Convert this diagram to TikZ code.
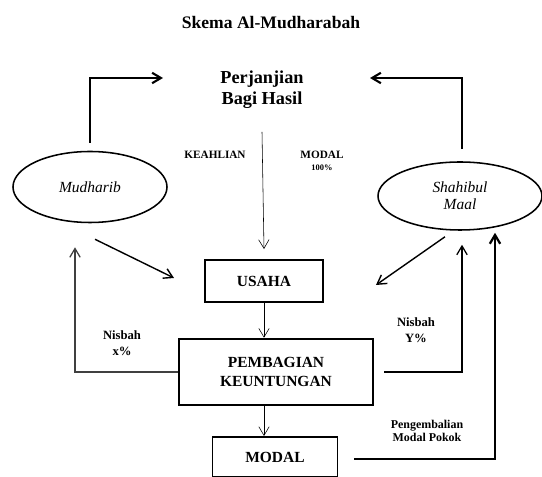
\documentclass[tikz,border=0pt]{standalone}
\usepackage{fontspec}
\setmainfont{Liberation Serif}
\usetikzlibrary{shapes.geometric,arrows.meta}

\tikzset{
    >={Straight Barb[length=2.2mm,width=2.6mm]},
    kotak/.style={draw, line width=1.4pt, align=center, font=\bfseries\fontsize{11}{13}\selectfont},
    pihak/.style={draw, ellipse, line width=1.1pt, align=center, font=\itshape\fontsize{11}{12}\selectfont},
    ket/.style={align=center, font=\bfseries\fontsize{8.5}{9.5}\selectfont},
}

\begin{document}
\begin{tikzpicture}[x=0.25mm, y=-0.25mm]
    \useasboundingbox (0,0) rectangle (542,477);
    \node[font=\bfseries\fontsize{12.5}{14}\selectfont] (judul) at (271,23) {Skema Al-Mudharabah};
    \node[align=center, font=\bfseries\fontsize{13}{15}\selectfont] (perjanjian) at (262,90) {Perjanjian\\Bagi Hasil};

    \node[pihak, minimum width=38.5mm, minimum height=17.75mm] (mudharib) at (90,187) {Mudharib};
    \node[pihak, minimum width=41mm, minimum height=17mm] (shahibul) at (460,196) {Shahibul\\Maal};

    \node[kotak, minimum width=29.5mm, minimum height=10.5mm] (usaha) at (264,281) {USAHA};
    \node[kotak, line width=1.8pt, minimum width=48.5mm, minimum height=16.5mm] (bagi) at (276,372) {PEMBAGIAN\\KEUNTUNGAN};
    \node[kotak, minimum width=31.25mm, minimum height=10mm] (modal) at (275,457) {MODAL};

    \coordinate (kiri) at (163,78);
    \coordinate (kanan) at (370,78);

    \node[ket, font=\bfseries\fontsize{8}{9}\selectfont] (keahlian) at (215,155) {KEAHLIAN};
    \node[ket, font=\bfseries\fontsize{8}{8.5}\selectfont] (modal100) at (322,161) {MODAL\\{\fontsize{6}{7}\selectfont 100\%}};
    \node[ket, font=\bfseries\fontsize{9}{11}\selectfont] (nisbahx) at (122,343) {Nisbah\\x\%};
    \node[ket, font=\bfseries\fontsize{9}{11}\selectfont] (nisbahy) at (416,330) {Nisbah\\Y\%};
    \node[ket] (kembali) at (427,431) {Pengembalian\\Modal Pokok};

    % perjanjian
    \draw[line width=1.5pt, ->] ([yshift=2mm]mudharib.north) |- (kiri);
    \draw[line width=1.5pt, ->] ([xshift=0.5mm, yshift=3mm]shahibul.north) |- (kanan);
    \draw[->] ([yshift=-4.5mm]perjanjian.south) -- ([yshift=2.5mm]usaha.north);

    % usaha
    \draw[line width=1pt, ->] ([xshift=1.25mm, yshift=-4mm]mudharib.south) -- ([xshift=-7.5mm, yshift=0.75mm]usaha.west);
    \draw[line width=1pt, ->] ([xshift=-3.75mm, yshift=-1.5mm]shahibul.south) -- ([xshift=13mm, yshift=-1mm]usaha.east);
    \draw[->] (usaha.south) -- (usaha.south |- bagi.north);
    \draw[->] (usaha.south |- bagi.south) -- (usaha.south |- modal.north);

    % nisbah
    \draw[line width=0.9pt, draw=black!75, ->] (bagi.west) -| ([xshift=-3.75mm, yshift=-6mm]mudharib.south);
    \draw[line width=0.9pt, ->] ([xshift=2.5mm]bagi.east) -| ([xshift=0.5mm, yshift=-3.5mm]shahibul.south);
    \draw[line width=1.6pt, ->] ([xshift=4mm, yshift=-0.5mm]modal.east) -| ([xshift=8.75mm, yshift=-0.5mm]shahibul.south);
\end{tikzpicture}
\end{document}
